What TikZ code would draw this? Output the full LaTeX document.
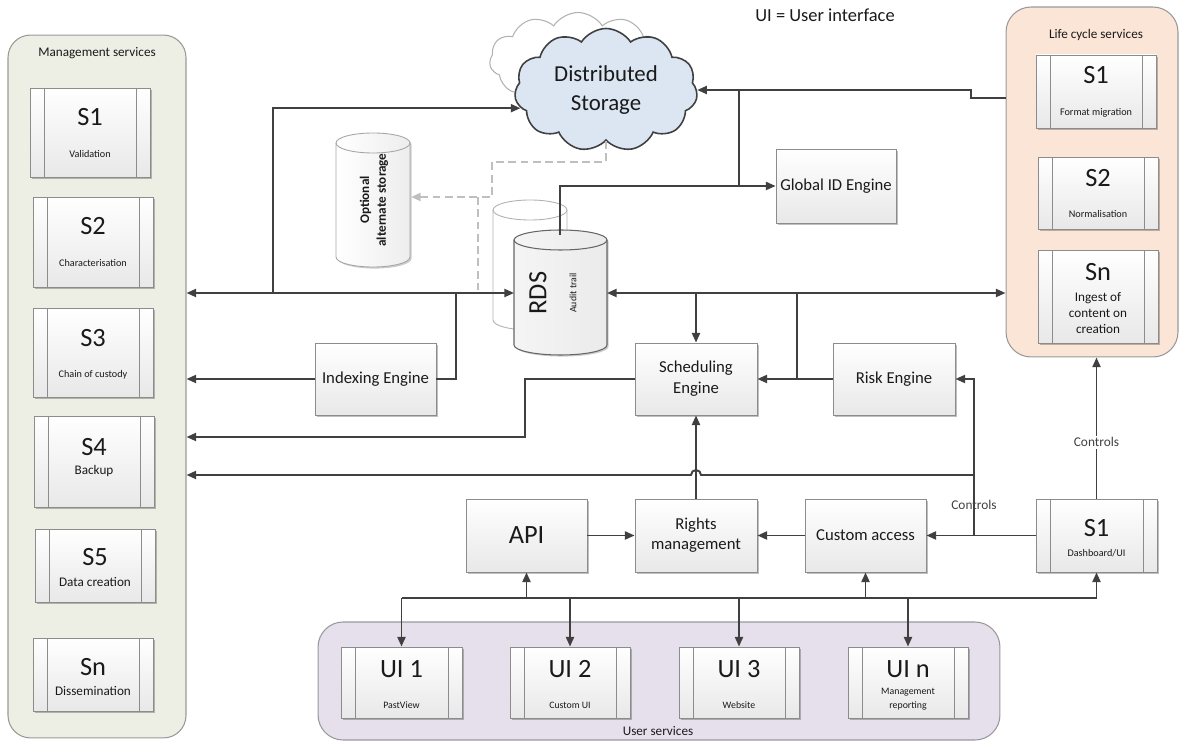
\documentclass[tikz,border=0pt]{standalone}
\usepackage{fontspec}
\setmainfont{Carlito}
\usetikzlibrary{arrows.meta,shapes.symbols,shadows}
\definecolor{ln}{HTML}{404040}
\definecolor{mgmtfill}{HTML}{EDEFE4}
\definecolor{lifefill}{HTML}{FBE5D6}
\definecolor{userfill}{HTML}{E6E0EC}
\definecolor{cloudfill}{HTML}{DCE6F2}
\definecolor{boxline}{HTML}{8C8C8C}
\definecolor{txt}{HTML}{1A1A1A}
\newcommand\fsz[2]{\fontsize{#1}{#2}\selectfont}
\newcommand\procnode[9]{%
  \node[proc, minimum width=#4, minimum height=#5] (#1) at (#2,#3) {};
  \node[bigtxt] (#1-a) at (#2,#7) {#6};
  \node[smalltxt] (#1-b) at (#2,#9) {#8};}
\begin{document}
\begin{tikzpicture}[x=0.02cm,y=-0.02cm,
  box/.style={draw=boxline, line width=0.5pt, top color=white, bottom color=black!9,
    drop shadow={shadow xshift=0.9pt, shadow yshift=-0.9pt, fill=black, opacity=0.25},
    inner sep=1pt, align=center, text=txt, font=\fsz{9.5}{12}},
  proc/.style={box, path picture={
    \draw[boxline, line width=0.5pt] ([xshift=0.28cm]path picture bounding box.north west) -- ([xshift=0.28cm]path picture bounding box.south west);
    \draw[boxline, line width=0.5pt] ([xshift=-0.28cm]path picture bounding box.north east) -- ([xshift=-0.28cm]path picture bounding box.south east);}},
  bigtxt/.style={font=\fsz{15}{18}, text=txt, inner sep=0pt},
  smalltxt/.style={font=\fsz{5.8}{7}, text=txt, inner sep=0pt, align=center},
  panel/.style={draw=black!40, line width=0.6pt, rounded corners=0.45cm},
  ptitle/.style={font=\fsz{7.5}{9}, text=txt, inner sep=0pt},
  wire/.style={draw=ln, line width=1.1pt},
  dashline/.style={draw=black!25, line width=1.1pt, dash pattern=on 4.5pt off 2.5pt},
  ctl/.style={font=\fsz{7.6}{9}, text=black!75, inner sep=1pt},
  >={Triangle[length=5.5pt,width=4.6pt]}]
\useasboundingbox (0,0) rectangle (1179,742);

% panels
\node[panel, fill=mgmtfill, minimum width=3.56cm, minimum height=14.06cm] (mgmt) at (97,386.5) {};
\node[panel, fill=lifefill, minimum width=3.44cm, minimum height=7.0cm, rounded corners=0.5cm] (life) at (1092,182) {};
\node[panel, fill=userfill, minimum width=13.64cm, minimum height=2.36cm, rounded corners=0.5cm] (user) at (659,681) {};
\node[ptitle] (mgmt-t) at (97,53) {Management services};
\node[ptitle] (life-t) at (1096,35) {Life cycle services};
\node[ptitle] (user-t) at (658,731) {User services};
\node[font=\fsz{10.5}{12.5}, text=txt, inner sep=0pt] (legend) at (825,15) {UI = User interface};

% management services
\procnode{m1}{90}{132.5}{2.4cm}{1.78cm}{S1}{117}{\fsz{5.8}{7}Validation}{154}
\procnode{m2}{93}{242}{2.4cm}{1.8cm}{S2}{226}{\fsz{5.8}{7}Characterisation}{263}
\procnode{m3}{93}{352.5}{2.4cm}{1.78cm}{S3}{338}{\fsz{5.8}{7}Chain of custody}{375}
\procnode{m4}{94}{461.5}{2.4cm}{1.82cm}{S4}{447}{\fsz{7.5}{9}Backup}{471}
\procnode{m5}{95}{565.5}{2.4cm}{1.46cm}{S5}{557}{\fsz{7.5}{9}Data creation}{582}
\procnode{m6}{93}{674.5}{2.4cm}{1.46cm}{Sn}{667}{\fsz{7.5}{9}Dissemination}{691}

% life cycle services
\procnode{l1}{1096}{91.5}{2.4cm}{1.46cm}{S1}{75}{\fsz{5.8}{7}Format migration}{113}
\procnode{l2}{1098}{193}{2.4cm}{1.44cm}{S2}{178}{\fsz{5.8}{7}Normalisation}{214}
\procnode{l3}{1098}{296.5}{2.4cm}{1.86cm}{Sn}{272}{\fsz{7.5}{9}Ingest of\\[2.2pt]\fsz{7.5}{9}content on\\[2.2pt]\fsz{7.5}{9}creation}{313}

% dashboard
\procnode{dash}{1096.5}{535.5}{2.42cm}{1.46cm}{S1}{528}{\fsz{5.8}{7}Dashboard/UI}{553}

% user services
\procnode{ui1}{401.5}{682.5}{2.42cm}{1.42cm}{UI 1}{669}{\fsz{5.6}{7}PastView}{705}
\procnode{ui2}{570}{682.5}{2.4cm}{1.42cm}{UI 2}{669}{\fsz{5.6}{7}Custom UI}{705}
\procnode{ui3}{739}{682.5}{2.4cm}{1.42cm}{UI 3}{669}{\fsz{5.6}{7}Website}{705}
\procnode{uin}{908}{682.5}{2.4cm}{1.42cm}{UI n}{669}{\fsz{5.6}{8}Management\\[1.2pt]\fsz{5.6}{8}reporting}{699}

% clouds
\node[cloud, cloud puffs=11, cloud puff arc=115, aspect=1.7, draw=black!30, fill=white,
  line width=0.6pt, minimum width=3.54cm, minimum height=1.9cm] (cloudbg) at (578,60) {};
\node[cloud, cloud puffs=11, cloud puff arc=115, aspect=1.6, draw=ln, fill=cloudfill,
  line width=0.9pt, minimum width=3.66cm, minimum height=2.28cm, align=center,
  font=\fsz{13}{17}, text=txt] (cloud) at (606,90) {Distributed\\Storage};

% optional alternate storage
\path[draw=black!35, line width=0.5pt, left color=white, right color=black!7,
  drop shadow={shadow xshift=0.9pt, shadow yshift=-0.9pt, fill=black, opacity=0.2}]
  (336,143) -- (336,257) arc[start angle=180,end angle=360,x radius=0.74cm,y radius=0.2cm]
  -- (410,143) arc[start angle=0,end angle=180,x radius=0.74cm,y radius=0.2cm] -- cycle;
\draw[black!35, line width=0.5pt] (336,143) arc[start angle=180,end angle=360,x radius=0.74cm,y radius=0.2cm];
\node[rotate=90, align=center, font=\bfseries\fsz{7.5}{9.5}, text=txt, inner sep=0pt] (opt) at (374,200) {Optional\\alternate storage};

% RDS back cylinder
\path[draw=black!30, line width=0.5pt, fill=white]
  (493,210) -- (493,320) arc[start angle=180,end angle=360,x radius=0.74cm,y radius=0.2cm]
  -- (567,210) arc[start angle=0,end angle=180,x radius=0.74cm,y radius=0.2cm] -- cycle;
\draw[black!30, line width=0.5pt] (493,210) arc[start angle=180,end angle=360,x radius=0.74cm,y radius=0.2cm];
% RDS front cylinder
\path[draw=black!60, line width=0.6pt, left color=black!4, right color=black!8,
  drop shadow={shadow xshift=0.9pt, shadow yshift=-0.9pt, fill=black, opacity=0.2}]
  (514,240) -- (514,345) arc[start angle=180,end angle=360,x radius=0.93cm,y radius=0.2cm]
  -- (607,240) arc[start angle=0,end angle=180,x radius=0.93cm,y radius=0.2cm] -- cycle;
\draw[black!60, line width=0.6pt] (514,240) arc[start angle=180,end angle=360,x radius=0.93cm,y radius=0.2cm];
\node[rotate=90, font=\fsz{15}{18}, text=txt, inner sep=0pt] (rds) at (538,293) {RDS};
\node[rotate=90, font=\fsz{5.6}{7}, text=txt, inner sep=0pt] (audit) at (573,293) {Audit trail};

% plain boxes
\node[box, minimum width=2.4cm, minimum height=1.48cm] (gid) at (836,186) {Global ID Engine};
\node[box, minimum width=2.42cm, minimum height=1.44cm] (idx) at (375.5,379) {Indexing Engine};
\node[box, minimum width=2.44cm, minimum height=1.44cm] (sched) at (696,379) {Scheduling\\Engine};
\node[box, minimum width=2.44cm, minimum height=1.44cm] (risk) at (894,379) {Risk Engine};
\node[box, minimum width=2.42cm, minimum height=1.46cm, font=\fsz{15}{18}] (api) at (526.5,535.5) {API};
\node[box, minimum width=2.44cm, minimum height=1.46cm, font=\fsz{9.5}{11.5}] (rights) at (696,535.5) {Rights\\management};
\node[box, minimum width=2.42cm, minimum height=1.46cm] (custom) at (865.5,535.5) {Custom access};

% coordinates
\coordinate (rdsL) at (514,293);
\coordinate (rdsR) at (607,293);
\coordinate (rdsT) at (560,235);
\coordinate (j1) at (273,293);
\coordinate (j2) at (456,293);
\coordinate (j3) at (525,437);
\coordinate (j4) at (696,293);
\coordinate (j5) at (797,293);
\coordinate (j6) at (974,535.5);
\coordinate (j7) at (974,475);
\coordinate (hopR) at (701,475);
\coordinate (j8) at (739,91);
\coordinate (j9) at (971,98);
\coordinate (b1) at (401.5,598);
\coordinate (b2) at (1096.5,598);
\coordinate (d1) at (492,162);
\coordinate (d2) at (478,197);
\coordinate (d3) at (478,290);
\coordinate (optE) at (411,197);

% dashed grey link
\draw[dashline,->] (cloud.south) |- (d1) |- (optE);
\draw[dashline] (d2) -- (d3);

% connectors
\draw[wire,<->] (mgmt.east |- rdsL) -- (rdsL);
\draw[wire,->] (j1) |- (cloud.192);
\draw[wire] (idx.east) -| (j2);
\draw[wire,->] (idx.west) -- (mgmt.east |- idx.west);
\draw[wire,->] (sched.west) -| (j3) -- (mgmt.east |- j3);
\draw[wire,<->] (rdsR) -- (life.west |- rdsR);
\draw[wire,->] (j4) -- (sched.north);
\draw[wire,->] (risk.west) -- (sched.east);
\draw[wire] (j5) -- (j5 |- sched.east);
\draw[wire,->] (dash.west) -- (custom.east);
\draw[wire,->] (j6) |- (risk.east);
\draw[wire,->] (j7) -- (hopR) arc[start angle=0,end angle=180,radius=0.1cm] -- (mgmt.east |- j7);
\node[ctl] (ctl1) at (974,505) {Controls};
\draw[wire,->] (rights.north) -- (sched.south);
\draw[wire,->] (api.east) -- (rights.west);
\draw[wire,->] (custom.west) -- (rights.east);
\draw[wire,->] (dash.north) -- node[ctl, fill=white, pos=0.4] (ctl2) {Controls} (dash.north |- life.south);
\draw[wire] (b1) -- (b2);
\draw[wire,->] (b1) -- (ui1.north);
\draw[wire,->] (ui2.north |- b1) -- (ui2.north);
\draw[wire,->] (ui3.north |- b1) -- (ui3.north);
\draw[wire,->] (uin.north |- b1) -- (uin.north);
\draw[wire,->] (api.south |- b1) -- (api.south);
\draw[wire,->] (custom.south |- b1) -- (custom.south);
\draw[wire,->] (b2) -- (dash.south);
\draw[wire,->] (rdsT) |- (gid.west);
\draw[wire] (j8) -- (j8 |- gid.west);
\draw[wire,->] (life.west |- j9) -- (j9) |- (cloud.east);
\end{tikzpicture}
\end{document}
